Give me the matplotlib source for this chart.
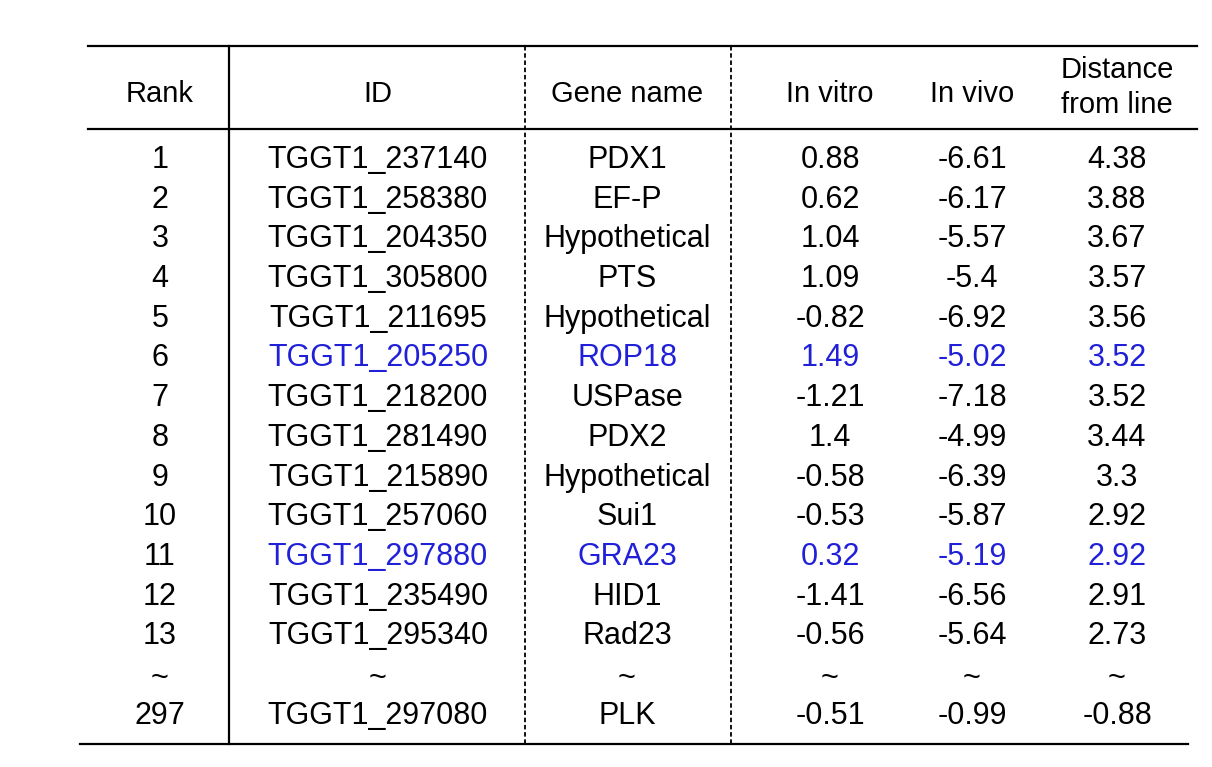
import matplotlib
matplotlib.use("Agg")
from matplotlib import pyplot as plt
from matplotlib.lines import Line2D

ranks = ["1", "2", "3", "4", "5", "6", "7", "8", "9", "10", "11", "12", "13", "~", "297"]
ids = ["TGGT1_237140", "TGGT1_258380", "TGGT1_204350", "TGGT1_305800", "TGGT1_211695",
       "TGGT1_205250", "TGGT1_218200", "TGGT1_281490", "TGGT1_215890", "TGGT1_257060",
       "TGGT1_297880", "TGGT1_235490", "TGGT1_295340", "~", "TGGT1_297080"]
genes = ["PDX1", "EF-P", "Hypothetical", "PTS", "Hypothetical", "ROP18", "USPase", "PDX2",
         "Hypothetical", "Sui1", "GRA23", "HID1", "Rad23", "~", "PLK"]
in_vitro = ["0.88", "0.62", "1.04", "1.09", "-0.82", "1.49", "-1.21", "1.4", "-0.58",
            "-0.53", "0.32", "-1.41", "-0.56", "~", "-0.51"]
in_vivo = ["-6.61", "-6.17", "-5.57", "-5.4", "-6.92", "-5.02", "-7.18", "-4.99", "-6.39",
           "-5.87", "-5.19", "-6.56", "-5.64", "~", "-0.99"]
distance = ["4.38", "3.88", "3.67", "3.57", "3.56", "3.52", "3.52", "3.44", "3.3", "2.92",
            "2.92", "2.91", "2.73", "~", "-0.88"]
highlight = [5, 10]

W, H = 1212, 767
fig = plt.figure(figsize=(W / 100, H / 100), dpi=100)
plt.rcParams["font.family"] = "Liberation Sans"


def px(x, y):
    return x / W, 1 - y / H


def hline(y, x0, x1):
    fig.add_artist(Line2D([x0 / W, x1 / W], [1 - y / H, 1 - y / H], color="black", lw=1.6))


def vline(x, y0, y1, ls="-", lw=1.6):
    fig.add_artist(Line2D([x / W, x / W], [1 - y0 / H, 1 - y1 / H], color="black", lw=lw, ls=ls))


hline(46, 88, 1197)
hline(129, 88, 1197)
hline(744, 80, 1188)
vline(229, 46, 744)
vline(525, 46, 744, ls=(0, (2.5, 1.5)), lw=1.3)
vline(731, 46, 744, ls=(0, (2.5, 1.5)), lw=1.3)

xs = [160, 378, 627, 830, 972, 1117]
for x, t in zip(xs[:5], ["Rank", "ID", "Gene name", "In vitro", "In vivo"]):
    fig.text(*px(x, 94), t, ha="center", va="center", fontsize=21)
fig.text(*px(xs[5], 70), "Distance", ha="center", va="center", fontsize=21)
fig.text(*px(xs[5], 105), "from line", ha="center", va="center", fontsize=21)

cols = [ranks, ids, genes, in_vitro, in_vivo, distance]
for i in range(len(ranks)):
    y = 160 + i * 39.7
    if ranks[i] == "~":
        y += 3
    for j, col in enumerate(cols):
        color = "#2020d8" if (i in highlight and j > 0) else "black"
        fig.text(*px(xs[j], y), col[i], ha="center", va="center", fontsize=22, color=color)

fig.savefig("out.png", dpi=100)
